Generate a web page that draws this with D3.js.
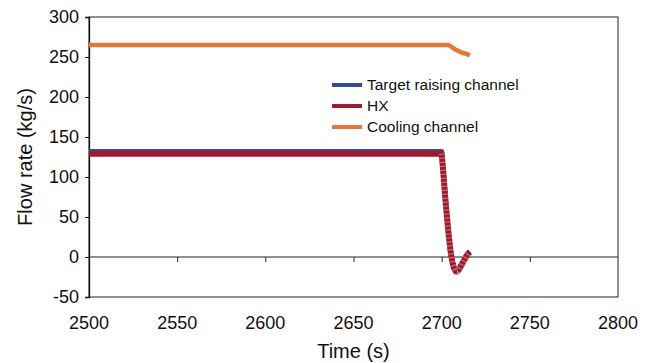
<!DOCTYPE html>
<html>
<head>
<meta charset="utf-8">
<script src="https://cdn.jsdelivr.net/npm/d3@7"></script>
<style>
  body { margin: 0; background: #fff; }
  text { font-family: "Liberation Sans", Arial, sans-serif; fill: #111; }
</style>
</head>
<body>
<script>
// chart data
var seriesNames = ["Target raising channel", "HX", "Cooling channel"];
var seriesColors = ["#3549a0", "#9e1a2c", "#e5773a"];

var targetTime = [2500, 2700, 2701, 2702, 2703, 2704, 2705, 2706, 2707, 2708, 2709, 2710, 2711, 2712, 2713, 2714, 2715, 2716];
var targetFlow = [132, 132, 106, 76, 51, 28, 9, -5, -13, -17, -17, -14, -10, -6, -2, 2, 5, 7];

var hxTime = [2500, 2700, 2701, 2702, 2703, 2704, 2705, 2706, 2707, 2708, 2709, 2710, 2711, 2712, 2713, 2714, 2715, 2716];
var hxFlow = [129, 129, 104, 75, 50, 27, 8, -6, -14, -18, -18, -15, -11, -7, -3, 1, 4, 6];

var coolTime = [2500, 2704, 2706, 2708, 2710, 2712, 2714, 2716];
var coolFlow = [265, 265, 262, 259, 257, 255, 254, 252];

var xTicks = [2500, 2550, 2600, 2650, 2700, 2750, 2800];
var yTicks = [-50, 0, 50, 100, 150, 200, 250, 300];

var w = 652, h = 363;
var margin = { top: 17, right: 34, bottom: 66, left: 89 };
var width = w - margin.left - margin.right;
var height = h - margin.top - margin.bottom;

var x = d3.scaleLinear().domain([2500, 2800]).range([0, width]);
var y = d3.scaleLinear().domain([-50, 300]).range([height, 0]);

var svg = d3.select("body").append("svg")
    .attr("width", w)
    .attr("height", h)
  .append("g")
    .attr("transform", "translate(" + margin.left + "," + margin.top + ")");

// plot frame
svg.append("rect")
   .attr("width", width)
   .attr("height", height)
   .attr("fill", "none")
   .attr("stroke", "#222")
   .attr("stroke-width", 1);

// y axis, ticks outside, plain hyphen for negatives
var yAxis = svg.append("g")
   .call(d3.axisLeft(y).tickValues(yTicks).tickSize(4).tickPadding(6)
     .tickFormat(function(d) { return String(d); }));
yAxis.select(".domain").attr("stroke", "#111").attr("stroke-width", 1.3);
yAxis.selectAll("line").attr("stroke", "#111");
yAxis.selectAll("text").style("font-size", "18px");

// x axis line sits at zero, labels sit below the frame
var xAxis = svg.append("g")
   .attr("transform", "translate(0," + y(0) + ")")
   .call(d3.axisBottom(x).tickValues(xTicks.slice(1, -1)).tickSize(5).tickFormat(""));
xAxis.select(".domain").attr("stroke", "#222").attr("d", "M0,0H" + width);
xAxis.selectAll("line").attr("stroke", "#222");

svg.append("g").selectAll("text")
   .data(xTicks)
   .enter()
   .append("text")
   .attr("x", function(d) { return x(d); })
   .attr("y", height + 32)
   .attr("text-anchor", "middle")
   .style("font-size", "18px")
   .text(function(d) { return d; });

// axis titles
svg.append("text")
   .attr("x", width / 2)
   .attr("y", height + 61)
   .attr("text-anchor", "middle")
   .style("font-size", "20px")
   .text("Time (s)");

svg.append("text")
   .attr("transform", "translate(" + (-57) + "," + (height / 2) + ") rotate(-90)")
   .attr("text-anchor", "middle")
   .style("font-size", "20px")
   .text("Flow rate (kg/s)");

// lines
var line = d3.line()
   .x(function(d) { return x(d[0]); })
   .y(function(d) { return y(d[1]); });

var series = [
  d3.zip(targetTime, targetFlow),
  d3.zip(hxTime, hxFlow),
  d3.zip(coolTime, coolFlow)
];
var widths = [5, 6, 4.5];

series.forEach(function(s, i) {
  svg.append("path")
     .datum(s)
     .attr("fill", "none")
     .attr("stroke", seriesColors[i])
     .attr("stroke-width", widths[i])
     .attr("stroke-linejoin", "round")
     .attr("d", line);
});

// dense markers make the transient part look hatched
svg.append("path")
   .datum(series[1].slice(1))
   .attr("fill", "none")
   .attr("stroke", "#d9c3c7")
   .attr("stroke-width", 6)
   .attr("stroke-dasharray", "1,3")
   .attr("opacity", 0.6)
   .attr("d", line);

// legend
var legend = svg.append("g")
   .attr("transform", "translate(" + (332 - margin.left) + "," + (85 - margin.top) + ")");

seriesNames.forEach(function(name, i) {
  var row = legend.append("g").attr("transform", "translate(0," + (i * 21) + ")");
  row.append("line")
     .attr("x1", 0).attr("x2", 30)
     .attr("stroke", seriesColors[i])
     .attr("stroke-width", 4);
  row.append("text")
     .attr("x", 35)
     .attr("dy", "0.35em")
     .style("font-size", "15.5px")
     .text(name);
});
</script>
</body>
</html>
